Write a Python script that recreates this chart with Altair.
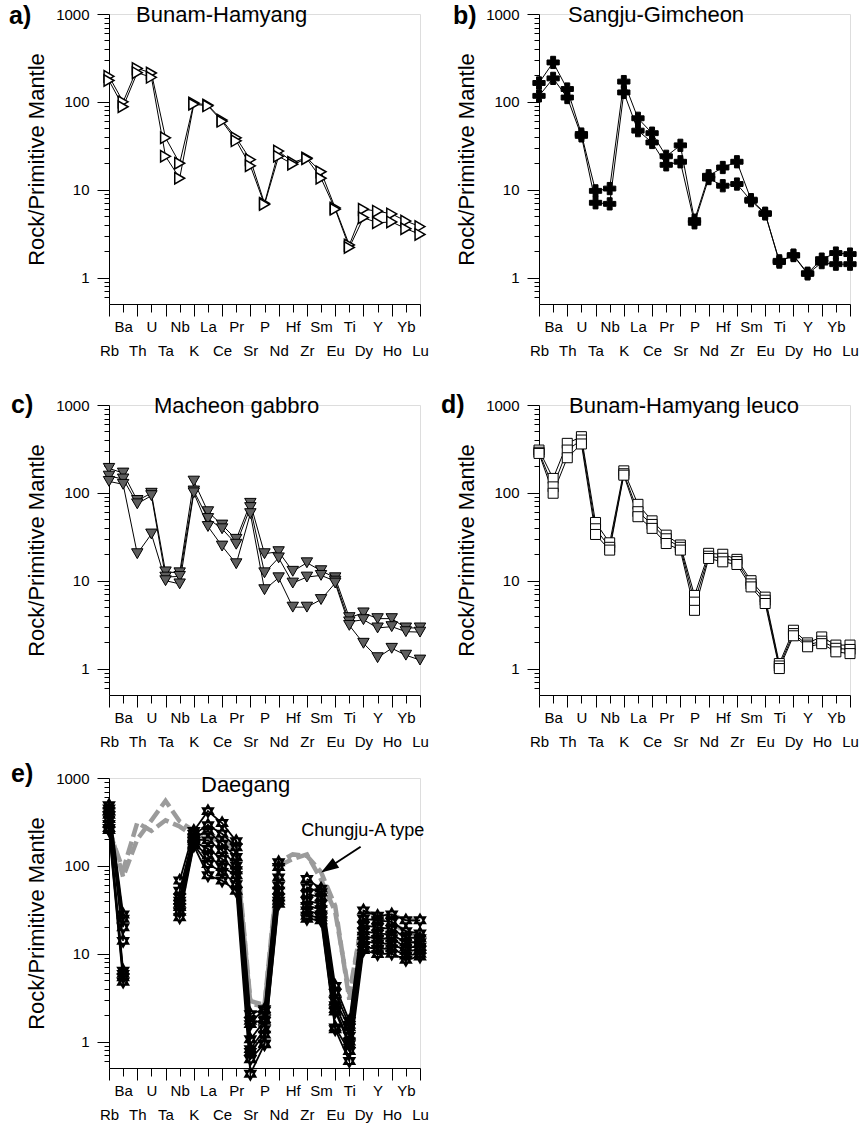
import altair as alt
import pandas as pd

FONT = "Liberation Sans"

ELEMENTS = ["Rb", "Ba", "Th", "U", "Ta", "Nb", "K", "La", "Ce", "Pr", "Sr", "P",
            "Nd", "Hf", "Zr", "Sm", "Eu", "Ti", "Dy", "Y", "Ho", "Yb", "Lu"]

# a) Bunam-Hamyang
A1 = [195, 100, 240, 213, 39, 20, 97, 92, 62, 39, 22, 7.0, 27.5, 20.5, 23, 16, 6.2, 2.35, 6.0, 5.7, 5.3, 4.4, 3.8]
A2 = [175, 88, 215, 190, 24, 13.5, 94, 90, 60, 36, 18.7, 6.8, 24, 19.5, 22.5, 13.5, 6.0, 2.2, 4.8, 4.2, 4.3, 3.6, 3.1]

# b) Sangju-Gimcheon
B1 = [164, 281, 140, 43, 9.7, 10.3, 170, 65, 44, 24, 32, 4.5, 14.4, 17.9, 20.8, 7.7, 5.4, 1.5, 1.8, 1.12, 1.62, 1.9, 1.85]
B2 = [117, 185, 112, 41, 7.1, 6.9, 128, 47, 34.5, 19.2, 20.8, 4.2, 13.4, 11.1, 11.6, 7.5, 5.3, 1.55, 1.78, 1.1, 1.48, 1.42, 1.42]

# c) Macheon gabbro
C1 = [190, 168, 82, 99, 12.6, 12.3, 136, 61, 43, 29.6, 76, 20.3, 21.4, 12.8, 16, 13, 10.8, 3.8, 4.3, 3.7, 3.7, 2.9, 2.9]
C2 = [155, 144, 75, 93, 11, 11.2, 105, 51, 39, 26, 68, 12.3, 18.2, 9.4, 11, 11.5, 9.9, 3.4, 3.6, 2.9, 3.0, 2.63, 2.6]
C3 = [135, 125, 20.3, 34, 10.0, 9.2, 100, 41.4, 24.8, 15.6, 58, 7.9, 10.8, 5.0, 5.0, 6.1, 9.4, 3.1, 1.94, 1.33, 1.7, 1.42, 1.25]

# d) Bunam-Hamyang leuco
D1 = [307, 146, 366, 436, 46, 27, 178, 74, 48, 33, 25.5, 6.8, 20.5, 20, 17.5, 10, 6.5, 1.14, 2.73, 1.96, 2.29, 1.85, 1.85]
D2 = [290, 117, 307, 399, 39, 24, 165, 61, 43.7, 30, 24, 5.7, 19, 18, 16.5, 9.2, 6.0, 1.07, 2.5, 1.85, 2.05, 1.7, 1.65]
D3 = [281, 99, 251, 360, 33.6, 22.3, 159, 53.5, 39.4, 26.5, 22.3, 4.6, 17.9, 16.4, 15.3, 8.5, 5.5, 1.0, 2.36, 1.77, 1.92, 1.55, 1.48]

# e) Daegang (Th, U, Ta, Hf not analysed)
N = None
E1 = [490, 28, N, N, N, 68, 250, 420, 307, 191, 2.05, 2.34, 110, N, 71, 55, 4.3, 1.72, 31, 27, 28, 24, 24]
E2 = [450, 25, N, N, N, 52, 230, 290, 232, 163, 1.72, 2.24, 97, N, 57, 50, 3.6, 1.55, 25, 24, 23, 18, 17]
E3 = [420, 20, N, N, N, 44, 210, 250, 178, 126, 1.58, 1.8, 74, N, 48, 44, 2.9, 1.45, 21, 20, 19, 15.4, 15]
E4 = [380, 14, N, N, N, 40, 200, 195, 150, 101, 1.06, 1.72, 60, N, 40, 37, 2.6, 1.16, 18, 17, 16.5, 13.5, 13.5]
E5 = [340, 6.4, N, N, N, 37, 190, 156, 120, 89, 0.82, 1.38, 52, N, 35, 32, 2.34, 1.0, 16, 14.7, 15, 11.8, 12]
E6 = [300, 5.9, N, N, N, 34, 180, 131, 97, 78, 0.76, 1.2, 44, N, 31, 28, 2.2, 0.93, 14, 13, 13, 10.8, 11]
E7 = [270, 5.4, N, N, N, 30, 175, 105, 85, 62, 0.63, 0.95, 40, N, 27, 26, 1.45, 0.78, 12, 11.3, 11.5, 9.5, 10]
E8 = [255, 4.8, N, N, N, 26, 170, 78, 68, 52, 0.43, 0.93, 37, N, 25, 24, 1.38, 0.6, 11, 9.9, 10, 8.5, 9.3]

# Chungju A-type reference patterns (grey)
G1 = [280, 75, 200, 330, 550, 320, 250, 230, 200, 170, 2.9, 2.6, 110, 135, 130, 85, 35, 3.0, 30, 28, 27, 25, 24]
G2 = [250, 90, 310, 250, 330, 280, 220, 210, 190, 150, 2.7, 2.5, 100, 120, 135, 70, 30, 3.5, 28, 25, 22, 18, 16]

# annotation (element index, value)
LABEL_POS = [13.6, 250]
ARROW_FROM = [17.8, 165]
ARROW_TO = [15.2, 88]


def to_df(samples):
    rows = []
    for name, vals in samples.items():
        seg = 0
        prev_ok = False
        for i, v in enumerate(vals):
            if v is None:
                if prev_ok:
                    seg += 1
                prev_ok = False
                continue
            rows.append({"sample": name, "seg": f"{name}_{seg}", "idx": i, "val": v})
            prev_ok = True
    return pd.DataFrame(rows)


label_arr = "[" + ",".join("'" + e + "'" for e in ELEMENTS) + "]"
x_label_expr = f"datum.value % 2 == 0 ? ['', {label_arr}[datum.value]] : {label_arr}[datum.value]"

y_values = []
for dec in [0.1, 1, 10, 100]:
    for m in range(1, 10):
        v = round(m * dec, 6)
        if 0.5 < v <= 1000:
            y_values.append(v)
y_values.append(1000)
y_label_expr = ("datum.value == 1 ? '1' : datum.value == 10 ? '10' : "
                "datum.value == 100 ? '100' : datum.value == 1000 ? '1000' : ''")
major_test = "datum.value == 1 || datum.value == 10 || datum.value == 100 || datum.value == 1000"

X_AXIS = alt.Axis(
    values=list(range(23)), labelExpr=x_label_expr, title=None, grid=False,
    tickSize={"condition": {"test": "datum.value % 2 == 0", "value": 12}, "value": 8},
    tickColor="black", tickWidth=1, domainColor="black", domainWidth=1,
    labelFont=FONT, labelFontSize=15, labelColor="black", labelPadding=7,
    labelOverlap=False, labelFlush=False, labelBound=False, labelLineHeight=20,
    labelBaseline="top", labelAlign="center",
)
Y_AXIS = alt.Axis(
    values=y_values, labelExpr=y_label_expr, title="Rock/Primitive Mantle", grid=False,
    tickSize={"condition": {"test": major_test, "value": 12}, "value": 5},
    tickColor="black", tickWidth=1, domainColor="black", domainWidth=1,
    labelFont=FONT, labelFontSize=15, labelColor="black", labelPadding=8,
    labelOverlap=False, labelFlush=False, labelBound=False,
    titleFont=FONT, titleFontSize=22, titleFontWeight="normal", titleColor="black",
    titlePadding=7,
)

XS = alt.X("idx:Q", scale=alt.Scale(domain=[0, 22], nice=False, zero=False), axis=X_AXIS)
YS = alt.Y("val:Q", scale=alt.Scale(type="log", domain=[0.5, 1000], nice=False), axis=Y_AXIS)

W, H = 311, 290


def text_layer(txt, dx, dy, size, bold=False):
    return alt.Chart(pd.DataFrame({"t": [txt]})).mark_text(
        align="left", baseline="alphabetic", font=FONT, fontSize=size,
        fontWeight="bold" if bold else "normal", color="black",
    ).encode(text="t:N", x=alt.value(dx), y=alt.value(dy))


def panel(samples, point_kw, line_width, letter, title, lpos, tpos, extra=()):
    df = to_df(samples)
    base = alt.Chart(df)
    lines = base.mark_line(color="black", strokeWidth=line_width).encode(
        x=XS, y=YS, detail="seg:N", order="idx:Q")
    pts = base.mark_point(**point_kw).encode(x=XS, y=YS)
    layers = list(extra) + [lines, pts,
                            text_layer(letter, lpos[0], lpos[1], 25, bold=True),
                            text_layer(title, tpos[0], tpos[1], 22)]
    return alt.layer(*layers).properties(width=W, height=H)


HEX = "M0,-1L0.866,0.5L-0.866,0.5Z M0,1L0.866,-0.5L-0.866,-0.5Z"

pa = panel({"a1": A1, "a2": A2},
           dict(shape="triangle-right", filled=True, fill="white", stroke="black",
                strokeWidth=1.5, size=130, opacity=1),
           1, "a)", "Bunam-Hamyang", (-100, 10), (27, 8))
pb = panel({"b1": B1, "b2": B2},
           dict(shape="cross", filled=True, fill="black", stroke="black",
                strokeWidth=1, size=150, opacity=1),
           1, "b)", "Sangju-Gimcheon", (-86, 10), (29, 8))
pc = panel({"c1": C1, "c2": C2, "c3": C3},
           dict(shape="triangle-down", filled=True, fill="#5e5e5e", stroke="black",
                strokeWidth=1, size=130, opacity=1),
           1, "c)", "Macheon gabbro", (-98, 8), (45, 8))
pd_ = panel({"d1": D1, "d2": D2, "d3": D3},
            dict(shape="square", filled=True, fill="white", stroke="black",
                 strokeWidth=1, size=100, opacity=1),
            1, "d)", "Bunam-Hamyang leuco", (-98, 8), (30, 8))

grey_df = to_df({"g1": G1, "g2": G2})
grey = alt.Chart(grey_df).mark_line(color="#9b9b9b", strokeWidth=4.5, strokeDash=[14, 5]).encode(
    x=XS, y=YS, detail="seg:N", order="idx:Q")

ann_df = pd.DataFrame({"idx": [ARROW_FROM[0]], "val": [ARROW_FROM[1]],
                       "idx2": [ARROW_TO[0]], "val2": [ARROW_TO[1]]})
arrow_line = alt.Chart(ann_df).mark_rule(color="black", strokeWidth=2).encode(
    x=XS, y=YS, x2="idx2:Q", y2="val2:Q")
head_df = pd.DataFrame({"idx": [ARROW_TO[0]], "val": [ARROW_TO[1]]})
arrow_head = alt.Chart(head_df).mark_point(
    shape="M0,0L0.4,1.2L-0.4,1.2Z", filled=True, fill="black", stroke="black",
    size=500, angle=237, opacity=1).encode(x=XS, y=YS)
lab_df = pd.DataFrame({"idx": [LABEL_POS[0]], "val": [LABEL_POS[1]], "t": ["Chungju-A type"]})
lab = alt.Chart(lab_df).mark_text(align="left", baseline="middle", font=FONT, fontSize=18,
                                  color="black").encode(x=XS, y=YS, text="t:N")

pe = panel({"e1": E1, "e2": E2, "e3": E3, "e4": E4, "e5": E5, "e6": E6, "e7": E7, "e8": E8},
           dict(shape=HEX, filled=True, fill="white", stroke="black",
                strokeWidth=2, size=140, opacity=1),
           1.8, "e)", "Daegang", (-98, 4), (92, 14), extra=(grey,))
pe = alt.layer(pe, arrow_line, arrow_head, lab)

grid = alt.concat(pa, pb, pc, pd_, columns=2, spacing={"row": 33, "column": 11})
chart = alt.vconcat(grid, pe, spacing=11).properties(
    padding={"left": 8, "top": 3, "right": 2, "bottom": 5}
).configure_view(stroke=None).configure(background="white")

chart.save("out.html", embed_options={"renderer": "svg", "actions": False})
